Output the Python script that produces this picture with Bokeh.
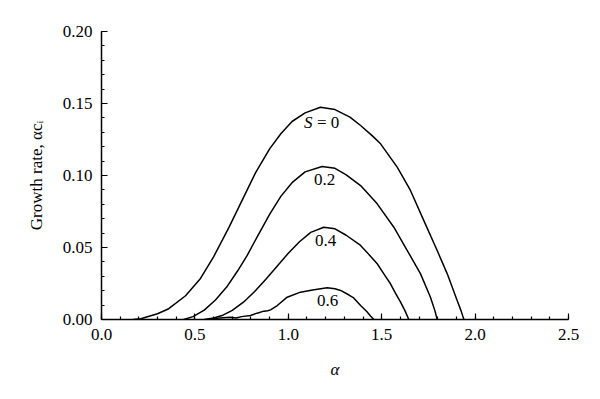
from bokeh.plotting import figure
from bokeh.models import Range1d, SingleIntervalTicker, NumeralTickFormatter
from bokeh.core.properties import value
from bokeh.embed import file_html
from bokeh.resources import INLINE

# S = 0
s0_x = [0.17, 0.21, 0.30, 0.36, 0.45, 0.53, 0.60, 0.683, 0.75, 0.825, 0.90, 0.96, 1.02,
        1.09, 1.172, 1.25, 1.33, 1.387, 1.45, 1.494, 1.583, 1.654, 1.725, 1.797, 1.851,
        1.904, 1.925, 1.94]
s0_y = [0.0, 0.0005, 0.004, 0.0075, 0.0165, 0.0285, 0.0435, 0.0641, 0.082, 0.102, 0.1185, 0.129,
        0.1375, 0.1435, 0.1474, 0.1458, 0.1405, 0.1347, 0.1275, 0.122, 0.1058, 0.0896, 0.0688,
        0.0479, 0.0317, 0.0132, 0.006, 0.0]
# S = 0.2
s2_x = [0.44, 0.49, 0.55, 0.61, 0.67, 0.73, 0.78, 0.84, 0.90, 0.96, 1.02, 1.09, 1.181,
        1.25, 1.31, 1.387, 1.476, 1.565, 1.637, 1.708, 1.761, 1.785, 1.797]
s2_y = [0.0, 0.002, 0.0065, 0.0135, 0.0225, 0.034, 0.0445, 0.059, 0.073, 0.0855, 0.095, 0.1025,
        0.1063, 0.105, 0.1005, 0.093, 0.0803, 0.0641, 0.0479, 0.0317, 0.0155, 0.006, 0.0]
# S = 0.4
s4_x = [0.55, 0.60, 0.65, 0.70, 0.76, 0.82, 0.88, 0.94, 1.00, 1.06, 1.12, 1.19, 1.25,
        1.31, 1.387, 1.44, 1.476, 1.515, 1.547, 1.575, 1.601, 1.625, 1.645]
s4_y = [0.0, 0.001, 0.003, 0.0063, 0.012, 0.0195, 0.028, 0.037, 0.046, 0.054, 0.0605, 0.0641, 0.063,
        0.0585, 0.0514, 0.044, 0.0387, 0.031, 0.0248, 0.018, 0.012, 0.006, 0.0]
# S = 0.6
s6_x = [0.57, 0.60, 0.65, 0.69, 0.72, 0.75, 0.798, 0.833, 0.869, 0.89, 0.905, 0.941, 0.994,
        1.065, 1.13, 1.208, 1.25, 1.28, 1.325, 1.35, 1.387, 1.42, 1.44, 1.458]
s6_y = [0.0, 0.0007, 0.0012, 0.0016, 0.001, 0.002, 0.0028, 0.0044, 0.0058, 0.0061, 0.0067, 0.0097,
        0.0155, 0.019, 0.0205, 0.022, 0.0213, 0.0202, 0.017, 0.015, 0.0097, 0.0055, 0.0025, 0.0]

label_x = [1.195, 1.20, 1.21]
label_y = [0.097, 0.0549, 0.0132]
label_text = ["0.2", "0.4", "0.6"]
s0_label_x = [1.18]
s0_label_y = [0.1366]

FONT = "Liberation Serif"
FS = "17px"

p = figure(width=584, height=391, output_backend="svg", toolbar_location=None,
           x_range=Range1d(0, 2.5), y_range=Range1d(0, 0.2),
           min_border_left=101, min_border_right=16, min_border_top=31, min_border_bottom=72)
p.outline_line_color = None
p.xgrid.visible = False
p.ygrid.visible = False
p.background_fill_color = "white"

for xs, ys in [(s0_x, s0_y), (s2_x, s2_y), (s4_x, s4_y), (s6_x, s6_y)]:
    p.line(xs, ys, line_color="black", line_width=1.5, line_join="round")

p.text(label_x, label_y, text=label_text, text_font=value(FONT), text_font_size=FS,
       text_align="center", text_baseline="middle", text_color="black")
p.text(s0_label_x, s0_label_y, text=["S"], text_font=value(FONT), text_font_size=FS,
       text_font_style="italic", text_align="left", text_baseline="middle",
       x_offset=-18, text_color="black")
p.text(s0_label_x, s0_label_y, text=["= 0"], text_font=value(FONT), text_font_size=FS,
       text_align="left", text_baseline="middle", x_offset=-5, text_color="black")

p.xaxis.ticker = SingleIntervalTicker(interval=0.5, num_minor_ticks=5)
p.yaxis.ticker = SingleIntervalTicker(interval=0.05, num_minor_ticks=5)
p.xaxis.formatter = NumeralTickFormatter(format="0.0")
p.yaxis.formatter = NumeralTickFormatter(format="0.00")

for ax in [p.xaxis[0], p.yaxis[0]]:
    ax.axis_line_width = 1.5
    ax.axis_line_color = "black"
    ax.major_tick_in = 6
    ax.major_tick_out = 0
    ax.minor_tick_in = 3
    ax.minor_tick_out = 0
    ax.major_tick_line_width = 1.2
    ax.minor_tick_line_width = 1.2
    ax.major_tick_line_color = "black"
    ax.minor_tick_line_color = "black"
    ax.major_label_text_font = FONT
    ax.major_label_text_font_size = FS
    ax.major_label_text_color = "black"
    ax.axis_label_text_font = FONT
    ax.axis_label_text_font_size = FS
    ax.axis_label_text_color = "black"

p.xaxis.major_label_standoff = 9
p.yaxis.major_label_standoff = 9
p.xaxis.axis_label = "α"
p.xaxis.axis_label_text_font_style = "italic"
p.xaxis.axis_label_standoff = 17
p.yaxis.axis_label = "Growth rate, αcᵢ"
p.yaxis.axis_label_text_font_style = "normal"
p.yaxis.axis_label_standoff = 14

open("out.html", "w").write(file_html(p, INLINE))
